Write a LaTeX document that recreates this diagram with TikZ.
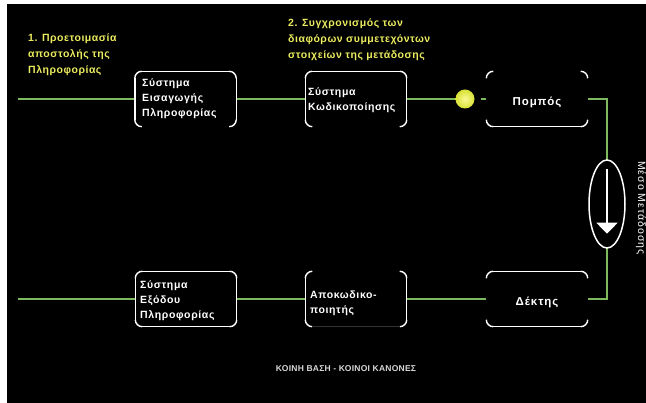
\documentclass[tikz,border=0pt]{standalone}
\usepackage{fontspec}
\setmainfont{Liberation Sans}
\usetikzlibrary{shapes.geometric,arrows.meta}
\definecolor{linegreen}{RGB}{125,185,95}
\definecolor{notegold}{RGB}{235,235,95}
\definecolor{syncouter}{RGB}{215,225,50}
\definecolor{syncinner}{RGB}{250,250,150}

% rounded corner arcs of a box, each drawn on its own
\newcommand\boxcorners[1]{%
  \draw[corner] ([yshift=-7pt]#1.north west) -- (#1.north west) -- ([xshift=7pt]#1.north west);
  \draw[corner] ([xshift=-7pt]#1.north east) -- (#1.north east) -- ([yshift=-7pt]#1.north east);
  \draw[corner] ([yshift=7pt]#1.south east) -- (#1.south east) -- ([xshift=-7pt]#1.south east);
  \draw[corner] ([xshift=7pt]#1.south west) -- (#1.south west) -- ([yshift=7pt]#1.south west);}
% straight sides between the corner arcs
\newcommand\sidetop[1]{\draw[side] (#1.north west) -- (#1.north east);}
\newcommand\sidebottom[1]{\draw[side] (#1.south west) -- (#1.south east);}
\newcommand\sideleft[1]{\draw[side] (#1.north west) -- (#1.south west);}
\newcommand\sideright[1]{\draw[side] (#1.north east) -- (#1.south east);}

\begin{document}
\begin{tikzpicture}[x=1pt,y=-1pt,
  box/.style={rectangle, minimum width=101pt, minimum height=55pt, inner sep=0pt},
  wline/.style={draw=white, line width=1.4pt},
  side/.style={wline, shorten <=7pt, shorten >=7pt},
  corner/.style={wline, rounded corners=7pt},
  wire/.style={draw=linegreen, line width=2.2pt},
  labelfont/.style={font=\bfseries\fontsize{10.5}{15}\selectfont\addfontfeature{LetterSpace=6}},
  boxtext/.style={labelfont, text=white, align=left, anchor=west, inner sep=0pt},
  centertext/.style={text=white, inner sep=0pt,
    font=\bfseries\fontsize{11.5}{15}\selectfont\addfontfeature{LetterSpace=8}},
  note/.style={text=notegold, align=left, anchor=north west, inner sep=0pt,
    font=\bfseries\fontsize{10.5}{16}\selectfont\addfontfeature{LetterSpace=5}}]

% page and dark backdrop
\fill[white] (0,0) rectangle (646,403);
\fill[black] (7,4) rectangle (646,403);
\useasboundingbox (0,0) rectangle (646,403);

% blocks
\node[box] (b1) at (185.5,99) {};
\node[box] (b2) at (356,99) {};
\node[box] (tx) at (537,99) {};
\node[box] (b4) at (186,299) {};
\node[box] (dec) at (356,299) {};
\node[box] (rx) at (537,299) {};

\node[circle, minimum size=19pt, inner sep=0pt, inner color=syncinner,
      outer color=syncouter] (sync) at (465,99) {};

% free ends and bends of the signal path
\coordinate (inL) at (18,99);
\coordinate (outL) at (18,299);
\coordinate (tr) at (607,99);
\coordinate (br) at (607,299);

% signal path
\draw[wire] (inL) -- (b1.west);
\draw[wire] (b1.east) -- (b2.west);
\draw[wire] (b2.east) -- (sync.west);
\draw[wire, shorten <=6pt] (sync.east) -- (tx.west);
\draw[wire] (tx.east) -- (tr) -- (br) -- (rx.east);
\draw[wire] (rx.west) -- (dec.east);
\draw[wire] (dec.west) -- (b4.east);
\draw[wire] (b4.west) -- (outL);

% transmission medium with its downward arrow
\node[ellipse, draw=white, fill=black, line width=1.5pt, minimum width=36pt,
      minimum height=88pt, inner sep=0pt] (medium) at (607,204) {};
\draw[white, line width=1.5pt, -{Triangle[width=21pt,length=11pt]}]
  ([yshift=-10pt]medium.north) -- ([yshift=15pt]medium.south);

% box outlines
\boxcorners{b1}\sidetop{b1}\sideleft{b1}\sideright{b1}
\boxcorners{b2}\sidetop{b2}\sideleft{b2}\sideright{b2}
\boxcorners{tx}\sidebottom{tx}
\boxcorners{b4}\sidetop{b4}\sidebottom{b4}\sideleft{b4}\sideright{b4}
\boxcorners{dec}\sideleft{dec}\sideright{dec}
\draw[draw=white!20!black, line width=1pt, shorten <=7pt, shorten >=7pt]
  (dec.south west) -- (dec.south east);
\boxcorners{rx}\sidetop{rx}\sidebottom{rx}

% block labels
\node[boxtext] (l1) at (142,99) {Σύστημα\\Εισαγωγής\\Πληροφορίας};
\node[boxtext] (l2) at (308,100) {Σύστημα\\Κωδικοποίησης};
\node[centertext] (l3) at ([yshift=-3pt]tx.center) {Πομπός};
\node[boxtext] (l4) at (140,301) {Σύστημα\\Εξόδου\\Πληροφορίας};
\node[boxtext] (l5) at (310,303) {Αποκωδικο-\\ποιητής};
\node[centertext] (l6) at ([yshift=-3pt]rx.center) {Δέκτης};

% notes
\node[note] (n1) at (28,34) {1. Προετοιμασία\\αποστολής της\\Πληροφορίας};
\node[note] (n2) at (288,19) {2. Συγχρονισμός των\\διαφόρων συμμετεχόντων\\στοιχείων της μετάδοσης};

\node[text=white, rotate=-90, inner sep=0pt,
      font=\fontsize{10.5}{12}\selectfont\addfontfeature{LetterSpace=10}] (mlabel) at (641,208) {Μέσο Μετάδοσης};

\node[text=white!85!black, inner sep=0pt,
      font=\bfseries\fontsize{8.5}{10}\selectfont\addfontfeature{LetterSpace=3}] (base) at (346,369) {ΚΟΙΝΗ ΒΑΣΗ - ΚΟΙΝΟΙ ΚΑΝΟΝΕΣ};
\end{tikzpicture}
\end{document}
